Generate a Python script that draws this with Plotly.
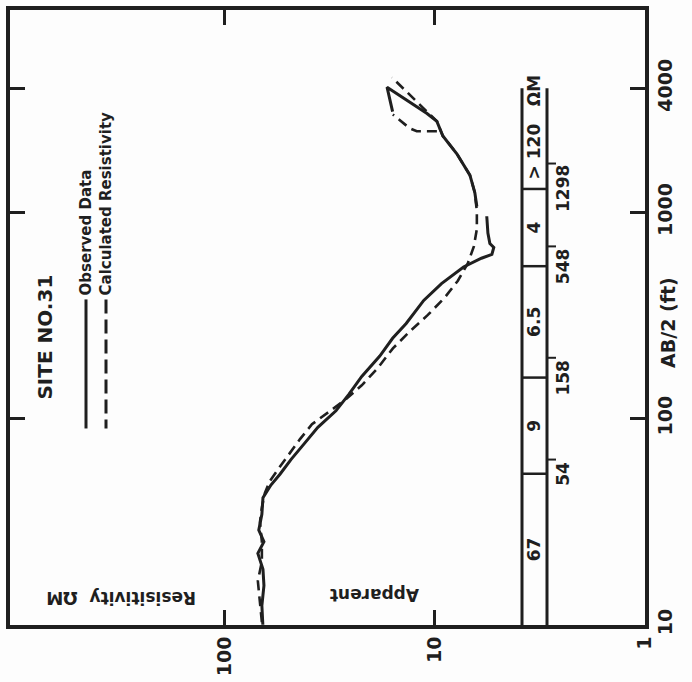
import math
import plotly.graph_objects as go

# Schlumberger sounding, site 31: half electrode spacing AB/2 (ft) vs apparent resistivity (ohm-m)
ab2_obs = [10, 12.4, 15.5, 18.6, 22.2, 25.3, 28.8, 34.3, 41.3, 47.6, 53.7, 63.2, 76.2, 90.6,
           109, 131, 160, 201, 245, 289, 374, 451, 543, 599, 625, 675, 705, 794, 957,
           None, 1067, 1245, 1514, 1923, 2344, 2761, 3015, 4045, 3076]
rho_obs = [66.0, 66.7, 65.2, 65.9, 69.7, 65.2, 69.0, 66.7, 65.9, 60.4, 54.7, 48.5, 41.6, 36.1,
           29.6, 25.7, 22.3, 18.3, 15.9, 13.7, 11.3, 9.3, 7.3, 6.0, 5.35, 5.24, 5.47, 5.59, 5.66,
           None, 6.31, 6.45, 6.81, 7.86, 9.16, 9.78, 10.9, 16.9, 15.9]

ab2_calc = [10.3, 13.1, 16.3, 20.3, 25.3, 31.5, 37.1, 43.6, 49.8, 56.7, 66.1, 79.5, 93.8, 107,
            123, 145, 176, 219, 264, 318, 387, 466, 567, 683, 830, 1011, 1245, 1514, 1923,
            2344, 2761, 3076, 4508]
rho_calc = [66.7, 68.1, 69.7, 66.7, 66.7, 68.1, 66.7, 64.5, 61.1, 55.9, 50.1, 43.9, 38.5, 32.3,
            26.8, 22.3, 18.7, 15.85, 13.2, 10.8, 8.96, 7.77, 6.96, 6.52, 6.31, 6.31, 6.45, 6.81,
            7.86, 9.16, 9.78, 10.9, 16.0]

ab2_calc_tail = [2472, 2472, 2559, 2978]
rho_calc_tail = [9.78, 12.2, 13.2, 15.85]

# Interpreted layer model: layer boundaries (ft) and layer resistivities (ohm-m)
layer_depths = [54, 158, 548, 1298]
layer_rho = ["67", "9", "6.5", "4", "> 120"]
rho_unit = "ΩM"

x_ticks = [1, 10, 100]
y_ticks = [10, 100, 1000, 4000]

# ---- page geometry ----
W, H = 692, 682
ML, MR, MT, MB = 10, 47, 6, 47
PW, PH = W - ML - MR, H - MT - MB
X_RANGE = [3.024, -0.001]        # log10 ohm-m, reversed
Y_RANGE = [0.999, 3.981]         # log10 ft

INK = "#1f1f1f"
FONT = "DejaVu Sans"


def font(size):
    return dict(family=FONT, size=size, color=INK, weight="bold")


def px_x(px):
    return (px - ML) / PW


def px_y(py):
    return (H - MB - py) / PH


def y_of(ab2):
    return (math.log10(ab2) - Y_RANGE[0]) / (Y_RANGE[1] - Y_RANGE[0])


fig = go.Figure()

fig.add_trace(go.Scatter(x=rho_calc, y=ab2_calc, mode="lines", name="Calculated Resistivity",
                         line=dict(color=INK, width=2.6, dash="10px,6px")))
fig.add_trace(go.Scatter(x=rho_calc_tail, y=ab2_calc_tail, mode="lines", showlegend=False,
                         line=dict(color=INK, width=2.6, dash="10px,6px")))
fig.add_trace(go.Scatter(x=rho_obs, y=ab2_obs, mode="lines", name="Observed Data",
                         connectgaps=False, line=dict(color=INK, width=3)))

shapes = []
annotations = []

# ---- layer column ----
col_l, col_r = px_x(522), px_x(547)
col_top = y_of(4000)
for xx in (col_l, col_r):
    shapes.append(dict(type="line", xref="paper", yref="paper", x0=xx, x1=xx, y0=0, y1=col_top,
                       line=dict(color=INK, width=3)))
for d in layer_depths:
    shapes.append(dict(type="line", xref="paper", yref="paper", x0=col_l, x1=col_r,
                       y0=y_of(d), y1=y_of(d), line=dict(color=INK, width=2.5)))

digit_px = 11.5
for d in layer_depths:
    label = str(d)
    yc = y_of(d)
    lead = yc + (len(label) * digit_px / 2 + 3) / PH
    shapes.append(dict(type="line", xref="paper", yref="paper", x0=col_r, x1=px_x(556),
                       y0=lead, y1=lead, line=dict(color=INK, width=2)))
    annotations.append(dict(text=label, xref="paper", yref="paper", x=px_x(563), y=yc,
                            xanchor="center", yanchor="middle", textangle=-90,
                            showarrow=False, font=font(17)))

bounds = [10] + layer_depths + [3000]
for i, lab in enumerate(layer_rho):
    mid = math.sqrt(bounds[i] * bounds[i + 1])
    annotations.append(dict(text=lab, xref="paper", yref="paper", x=px_x(534), y=y_of(mid),
                            xanchor="center", yanchor="middle", textangle=-90,
                            showarrow=False, font=font(17)))
annotations.append(dict(text=rho_unit, xref="paper", yref="paper", x=px_x(534), y=px_y(89),
                        xanchor="center", yanchor="middle", textangle=-90,
                        showarrow=False, font=font(17)))

# ---- key ----
annotations.append(dict(text="SITE NO.31", xref="paper", yref="paper", x=px_x(45), y=px_y(341),
                        xanchor="center", yanchor="middle", textangle=-90,
                        showarrow=False, font=font(20)))
annotations.append(dict(text="Observed Data", xref="paper", yref="paper", x=px_x(86),
                        y=px_y(300), xanchor="center", yanchor="bottom", textangle=-90,
                        showarrow=False, font=font(15)))
annotations.append(dict(text="Calculated Resistivity", xref="paper", yref="paper", x=px_x(106),
                        y=px_y(300), xanchor="center", yanchor="bottom", textangle=-90,
                        showarrow=False, font=font(15)))
shapes.append(dict(type="line", xref="paper", yref="paper", x0=px_x(86), x1=px_x(86),
                   y0=px_y(302), y1=px_y(434), line=dict(color=INK, width=3)))
shapes.append(dict(type="line", xref="paper", yref="paper", x0=px_x(106), x1=px_x(106),
                   y0=px_y(302), y1=px_y(434), line=dict(color=INK, width=3, dash="14px,6px")))

# ---- axis titles ----
annotations.append(dict(text="AB/2 (ft)", xref="paper", yref="paper", x=px_x(668), y=px_y(326),
                        xanchor="center", yanchor="middle", textangle=-90,
                        showarrow=False, font=font(19)))
annotations.append(dict(text="Resisitivity  ΩM", xref="paper", yref="paper", x=px_x(121),
                        y=px_y(608), xanchor="center", yanchor="middle", textangle=180,
                        showarrow=False, font=font(17)))
annotations.append(dict(text="Apparent", xref="paper", yref="paper", x=px_x(375),
                        y=px_y(605), xanchor="center", yanchor="middle", textangle=180,
                        showarrow=False, font=font(17)))

axis_common = dict(type="log", showgrid=False, zeroline=False, showline=True, linewidth=4,
                   linecolor=INK, mirror="ticks", ticks="inside", ticklen=15, tickwidth=3,
                   tickcolor=INK, tickangle=-90, tickfont=font(19))

fig.update_xaxes(range=X_RANGE, tickvals=x_ticks, ticktext=[str(v) for v in x_ticks],
                 **axis_common)
fig.update_yaxes(range=Y_RANGE, tickvals=y_ticks, ticktext=[str(v) for v in y_ticks],
                 side="right", **axis_common)

fig.update_layout(width=W, height=H, margin=dict(l=ML, r=MR, t=MT, b=MB),
                  paper_bgcolor="#fdfdfd", plot_bgcolor="#fdfdfd", showlegend=False,
                  shapes=shapes, annotations=annotations)

fig.write_html("out.html")
